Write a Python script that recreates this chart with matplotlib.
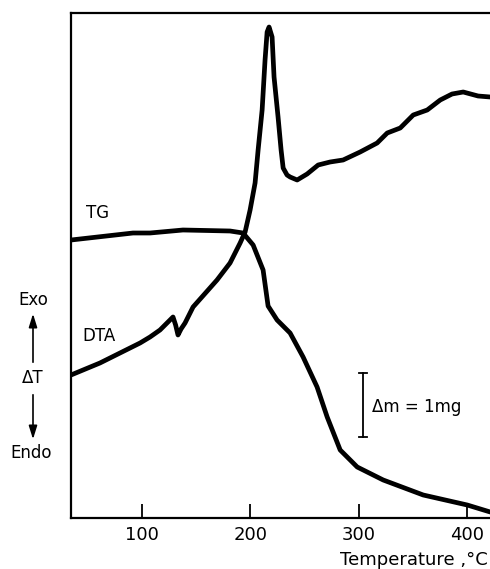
import matplotlib
matplotlib.use("Agg")
import matplotlib.pyplot as plt

# DTA curve (temperature in C, signal in arbitrary units)
dta_t = [34.5, 61.2, 98.2, 107.4, 116.6, 128.6, 131, 133.2, 136, 139.7, 147.1, 169.2, 181.2,
         190.5, 195.1, 199.7, 204.3, 207.1, 210.8, 213.5, 215.4, 217.2, 220.0, 221.8, 225.5,
         228.3, 230.2, 233.8, 236.6, 243.1, 252.3, 262.5, 273.5, 285.5, 301.2, 316.9, 326.2,
         338.2, 350.2, 363.1, 375.1, 386, 396.3, 410, 421.2]
dta_y = [143, 155, 175, 181, 188, 201, 193, 183, 189, 195, 211, 238, 255,
         275, 286, 308, 335, 368, 408, 458, 486, 491, 481, 441, 401,
         368, 350, 343, 341, 338, 344, 353, 356, 358, 366, 375, 385,
         390, 403, 408, 418, 424, 426, 422, 421]

# TG curve
tg_t = [34.5, 91.7, 107.4, 137.8, 181.2, 193.2, 202.5, 211.7, 216.3, 224.6, 236.6,
        248.6, 261.5, 270.8, 282.8, 298.5, 322.5, 359.4, 400, 421.2]
tg_y = [278, 285, 285, 288, 287, 285, 273, 248, 212, 198, 185,
        161, 131, 101, 68, 51, 38, 23, 13, 6]

ticks = [100, 200, 300, 400]

fig = plt.figure(figsize=(4.9, 5.69), dpi=100)
ax = fig.add_axes([71 / 490, 51 / 569, 419 / 490, 505 / 569])

ax.plot(dta_t, dta_y, color="black", lw=3.4, solid_capstyle="round", solid_joinstyle="round")
ax.plot(tg_t, tg_y, color="black", lw=3.4, solid_capstyle="round", solid_joinstyle="round")

ax.set_xlim(34.5, 421)
ax.set_ylim(0, 505)
ax.spines["right"].set_visible(False)
for s in ["left", "bottom", "top"]:
    ax.spines[s].set_linewidth(1.6)
ax.set_yticks([])
ax.set_xticks(ticks)
ax.tick_params(axis="x", direction="in", length=10, width=1.3, labelsize=13, pad=6)

ax.text(48, 300, "TG", fontsize=12)
ax.text(45, 177, "DTA", fontsize=12)

# scale bar
ax.plot([304, 304], [81, 145], color="black", lw=1.3)
ax.plot([300, 308], [145, 145], color="black", lw=1.3)
ax.plot([300, 308], [81, 81], color="black", lw=1.3)
ax.text(312, 111, "Δm = 1mg", fontsize=12, va="center")

fig.text(340 / 490, 1 - 560 / 569, "Temperature ,°C", fontsize=13, va="center")

# Exo / Endo indicator
fig.text(33 / 490, 1 - 300 / 569, "Exo", fontsize=12, ha="center", va="center")
fig.text(33 / 490, 1 - 378 / 569, "ΔT", fontsize=12, ha="center", va="center")
fig.text(31 / 490, 1 - 453 / 569, "Endo", fontsize=12, ha="center", va="center")
ax.annotate("", xy=(33, 569 - 311), xytext=(33, 569 - 365), xycoords="figure pixels",
            textcoords="figure pixels",
            arrowprops=dict(arrowstyle="-|>,head_length=0.8,head_width=0.25", color="black", lw=1.2))
ax.annotate("", xy=(33, 569 - 442), xytext=(33, 569 - 392), xycoords="figure pixels",
            textcoords="figure pixels",
            arrowprops=dict(arrowstyle="-|>,head_length=0.8,head_width=0.25", color="black", lw=1.2))

fig.savefig("out.png", dpi=100)
